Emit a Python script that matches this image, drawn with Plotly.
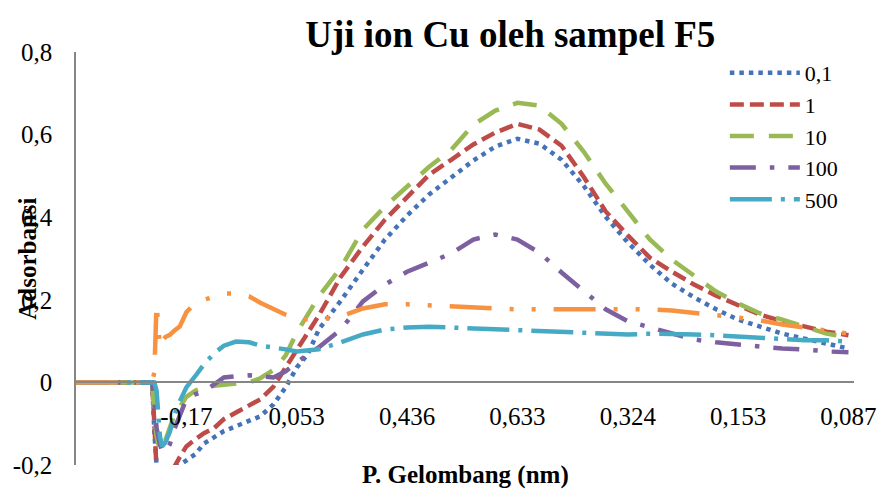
import plotly.graph_objects as go

# Positions along the category axis (1..7 are the labelled categories)
x_pos = [0, 0.3, 0.6, 0.66, 0.69, 0.71, 0.73, 0.76, 0.78, 0.81, 0.85, 0.89, 0.94,
         1.0, 1.08, 1.16, 1.25, 1.34, 1.45, 1.57, 1.67, 1.79, 1.9, 2.0, 2.1, 2.2,
         2.4, 2.6, 2.8, 3.0, 3.2, 3.4, 3.6, 3.8, 4.0, 4.2, 4.4, 4.6, 4.8, 5.0,
         5.2, 5.4, 5.6, 5.8, 6.0, 6.2, 6.4, 6.6, 6.8, 7.0]

x_tick_pos = [1, 2, 3, 4, 5, 6, 7]
x_tick_text = ["-0,17", "0,053", "0,436", "0,633", "0,324", "0,153", "0,087"]

y_tick_vals = [-0.2, 0, 0.2, 0.4, 0.6, 0.8]
y_tick_text = ["-0,2", "0", "0,2", "0,4", "0,6", "0,8"]

# Absorbance per concentration
abs_0_1 = [0, 0, 0, 0, 0.0, -0.12, -0.2, -0.21, -0.21, -0.21, -0.21, -0.21, -0.2,
           -0.19, -0.174, -0.148, -0.133, -0.118, -0.106, -0.094, -0.082, -0.053, -0.012, 0.036, 0.068, 0.128,
           0.198, 0.273, 0.346, 0.404, 0.455, 0.496, 0.537, 0.571, 0.590, 0.578, 0.539, 0.476, 0.401, 0.339,
           0.285, 0.239, 0.206, 0.177, 0.152, 0.135, 0.118, 0.106, 0.094, 0.082]

abs_1 = [0, 0, 0, 0, 0.0, -0.1, -0.21, -0.215, -0.215, -0.215, -0.21, -0.205, -0.181,
         -0.155, -0.138, -0.123, -0.111, -0.089, -0.073, -0.056, -0.041, -0.01, 0.036, 0.075, 0.121, 0.162,
         0.256, 0.329, 0.394, 0.45, 0.503, 0.539, 0.576, 0.605, 0.626, 0.612, 0.573, 0.498, 0.414, 0.356,
         0.302, 0.268, 0.237, 0.210, 0.186, 0.164, 0.148, 0.135, 0.123, 0.114]

abs_10 = [0, 0, 0, 0, 0.0, -0.08, -0.13, -0.165, -0.16, -0.14, -0.11, -0.08, -0.06,
          -0.035, -0.02, -0.012, -0.008, -0.005, -0.002, 0.0, 0.01, 0.03, 0.065, 0.121, 0.164, 0.208,
          0.278, 0.37, 0.426, 0.474, 0.522, 0.563, 0.624, 0.658, 0.677, 0.67, 0.626, 0.559, 0.481, 0.414,
          0.346, 0.297, 0.259, 0.220, 0.191, 0.167, 0.152, 0.135, 0.118, 0.109]

abs_100 = [0, 0, 0, 0, 0.0, -0.05, -0.11, -0.15, -0.165, -0.17, -0.15, -0.114, -0.082,
           -0.041, -0.029, -0.022, -0.005, 0.012, 0.015, 0.017, 0.015, 0.012, 0.027, 0.048, 0.068, 0.085,
           0.128, 0.196, 0.237, 0.268, 0.29, 0.312, 0.346, 0.358, 0.346, 0.314, 0.266, 0.22, 0.177, 0.148,
           0.133, 0.118, 0.104, 0.097, 0.092, 0.087, 0.082, 0.08, 0.075, 0.073]

abs_500 = [0, 0, 0, 0, 0.0, 0.0, -0.02, -0.13, -0.155, -0.145, -0.12, -0.08, -0.046,
           -0.012, 0.015, 0.044, 0.07, 0.089, 0.099, 0.097, 0.089, 0.085, 0.08, 0.075, 0.077, 0.08,
           0.097, 0.116, 0.128, 0.133, 0.135, 0.133, 0.131, 0.128, 0.126, 0.123, 0.121, 0.121, 0.118, 0.116,
           0.118, 0.118, 0.116, 0.114, 0.111, 0.109, 0.106, 0.102, 0.102, 0.099]

abs_extra = [0, 0, 0, 0, 0.0, 0.025, 0.19, 0.085, 0.1, 0.11, 0.115, 0.125, 0.135,
             0.17, 0.192, 0.2, 0.207, 0.215, 0.215, 0.208, 0.193, 0.178, 0.164, 0.155, 0.152, 0.152,
             0.16, 0.179, 0.189, 0.189, 0.186, 0.184, 0.181, 0.179, 0.177, 0.177, 0.177, 0.177, 0.177, 0.179,
             0.177, 0.174, 0.169, 0.164, 0.157, 0.15, 0.14, 0.133, 0.126, 0.118]

series = [
    ("0,1", abs_0_1, "#4672B8", "4.5px,5px", True),
    ("1", abs_1, "#BE4B48", "14px,6px", True),
    ("10", abs_10, "#98B954", "24px,15px", True),
    ("100", abs_100, "#7D60A0", "26px,14px,4.5px,14px", True),
    ("500", abs_500, "#46AAC5", "42px,9px,4px,9px", True),
    ("Seri 6", abs_extra, "#F69240", "42px,18px,4px,18px,4px,18px", False),
]

serif = "Liberation Serif, Times New Roman, serif"

fig = go.Figure()
for name, vals, color, dash, show in series:
    fig.add_trace(go.Scatter(
        x=x_pos, y=vals, mode="lines", name=name, showlegend=show,
        line=dict(color=color, width=4.5, dash=dash),
    ))

fig.update_layout(
    width=889, height=491,
    margin=dict(l=76, r=30, t=52, b=26),
    paper_bgcolor="white", plot_bgcolor="white",
    font=dict(family=serif, size=25, color="black"),
    title=dict(text="<b>Uji ion Cu oleh sampel F5</b>", font=dict(size=37, family=serif),
               x=0.574, xanchor="center", y=0.93, yanchor="middle", xref="container"),
    xaxis=dict(
        range=[0, 7.05], tickvals=x_tick_pos, ticktext=x_tick_text,
        anchor="free", position=0.2, showline=True, linecolor="#868686", linewidth=1.5,
        showgrid=False, zeroline=False, ticks="outside", ticklen=12,
        tickcolor="rgba(0,0,0,0)", tickfont=dict(size=25, family=serif),
    ),
    yaxis=dict(
        range=[-0.2, 0.8], tickvals=y_tick_vals, ticktext=y_tick_text,
        showline=True, linecolor="#868686", linewidth=1.5, showgrid=False, zeroline=False,
        ticks="outside", ticklen=17, tickcolor="rgba(0,0,0,0)",
        tickfont=dict(size=25, family=serif),
    ),
    legend=dict(x=0.834, y=1.0, xanchor="left", yanchor="top", itemwidth=70,
                font=dict(size=22, family=serif), bgcolor="rgba(0,0,0,0)",
                tracegroupgap=0),
    annotations=[
        dict(text="<b>P. Gelombang (nm)</b>", xref="paper", yref="paper", x=0.5, y=-0.025,
             xanchor="center", yanchor="middle", showarrow=False,
             font=dict(size=25, family=serif)),
        dict(text="<b>Adsorbansi</b>", xref="paper", yref="paper", x=-0.0626, y=0.5,
             xanchor="center", yanchor="middle", textangle=-90, showarrow=False,
             font=dict(size=25, family=serif)),
    ],
)

fig.write_html("out.html")
